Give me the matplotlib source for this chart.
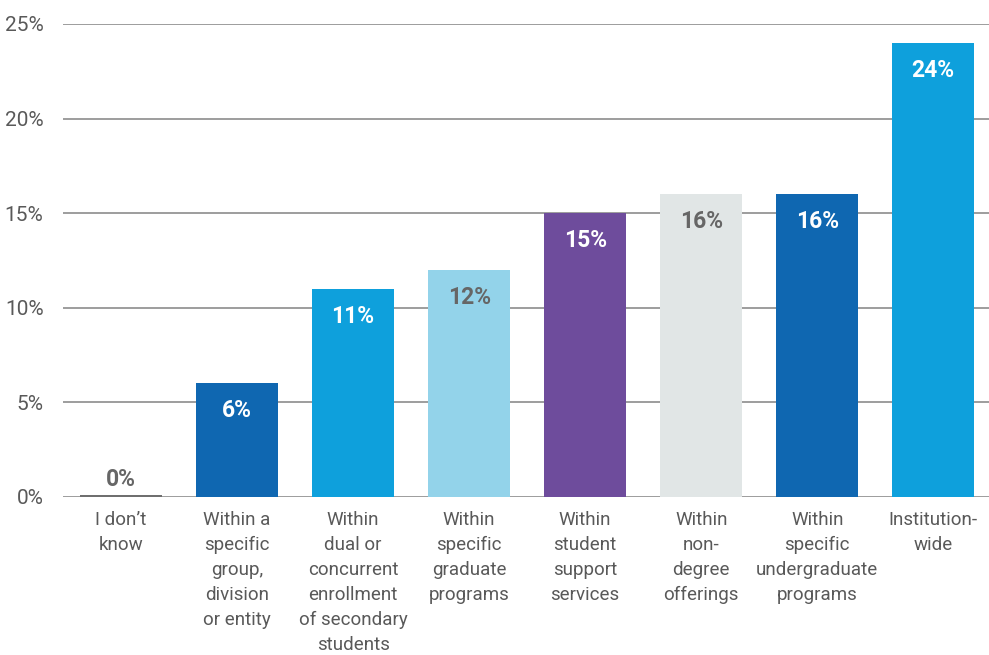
import matplotlib.pyplot as plt

categories = [
    "I don\u2019t\nknow",
    "Within a\nspecific\ngroup,\ndivision\nor entity",
    "Within\ndual or\nconcurrent\nenrollment\nof secondary\nstudents",
    "Within\nspecific\ngraduate\nprograms",
    "Within\nstudent\nsupport\nservices",
    "Within\nnon-\ndegree\nofferings",
    "Within\nspecific\nundergraduate\nprograms",
    "Institution-\nwide",
]
values = [0, 6, 11, 12, 15, 16, 16, 24]
bar_colors = ["#6f6f6f", "#0f67b1", "#0ea0dc", "#93d3ea",
              "#6e4c9c", "#e1e6e6", "#0f67b1", "#0ea0dc"]
label_colors = ["#666666", "white", "white", "#666666",
                "white", "#666666", "white", "white"]

plt.rcParams['font.family'] = ['Roboto', 'DejaVu Sans']

fig = plt.figure(figsize=(9.89, 6.55), dpi=100)
ax = fig.add_axes([63 / 989, 1 - 497 / 655, 926 / 989, 473 / 655])

x = range(len(values))
bars = ax.bar(x, values, width=0.71, color=bar_colors, zorder=3)
# zero-height bar shown as a thick line on the baseline
ax.bar(0, 0.08, width=0.71, color=bar_colors[0], zorder=4)

for i, (v, c) in enumerate(zip(values, label_colors)):
    if v == 0:
        ax.text(i, 0.95, f"{v}%", ha='center', va='center', color=c,
                fontsize=16.5, fontweight='semibold')
    else:
        ax.text(i, v - 1.45, f"{v}%", ha='center', va='center', color=c,
                fontsize=16.5, fontweight='semibold', zorder=5)

ax.set_xlim(-0.5, 7.48)
ax.set_ylim(0, 25)
ax.set_yticks(range(0, 26, 5))
ax.set_yticklabels([f"{t}%" for t in range(0, 26, 5)])
ax.set_xticks(list(x))
ax.set_xticklabels(categories, linespacing=1.5)

ax.grid(axis='y', color='#8c8c8c', linewidth=1.2, zorder=0)
for s in ['top', 'right', 'left', 'bottom']:
    ax.spines[s].set_visible(False)
ax.tick_params(axis='both', length=0, colors='#595959')
ax.tick_params(axis='y', pad=14, labelsize=15)
ax.tick_params(axis='x', pad=10, labelsize=13.5)

fig.savefig('out.png', dpi=100)
